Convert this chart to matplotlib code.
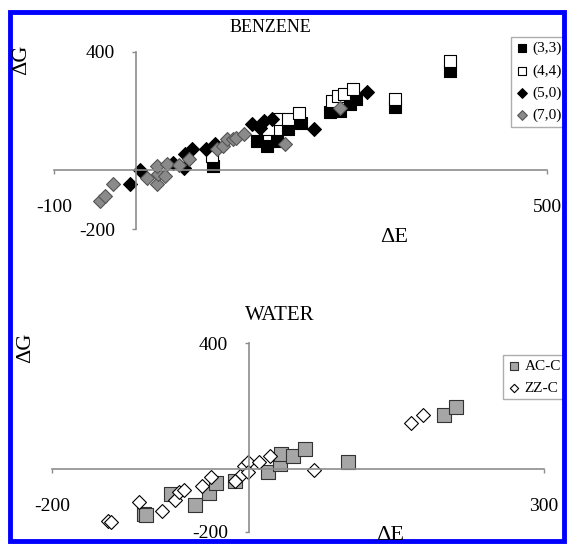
import matplotlib
matplotlib.use('Agg')
import matplotlib.pyplot as plt
from matplotlib.patches import Rectangle

plt.rcParams['font.family'] = ['Liberation Serif', 'DejaVu Serif']
plt.rcParams['axes.unicode_minus'] = False

# BENZENE panel
bz33_x = [94, 147, 159, 171, 185, 200, 236, 248, 260, 268, 315, 382]
bz33_y = [14, 98, 81, 98, 138, 160, 195, 200, 225, 239, 212, 335]
bz44_x = [92, 161, 173, 185, 198, 238, 246, 253, 264, 315, 382]
bz44_y = [47, 138, 172, 172, 194, 234, 251, 258, 275, 242, 369]
bz50_x = [-7, 5, 45, 58, 60, 68, 85, 96, 141, 151, 155, 165, 216, 281]
bz50_y = [-49, 0, 25, 8, 53, 70, 70, 87, 155, 144, 166, 172, 138, 264]
bz70_x = [-44, -38, -28, 13, 25, 27, 35, 25, 37, 52, 64, 98, 106, 110, 118, 122, 131, 181, 248]
bz70_y = [-105, -88, -49, -26, -49, -15, -20, 14, 19, 16, 36, 70, 81, 104, 104, 110, 121, 87, 211]

# WATER panel
acc_x = [-107, -104, -79, -55, -40, -33, -14, 20, 32, 33, 45, 57, 101, 198, 211]
acc_y = [-143, -147, -79, -113, -76, -45, -37, -11, 16, 48, 42, 63, 21, 171, 196]
zzc_x = [-143, -140, -112, -88, -75, -71, -66, -48, -38, -14, -7, -5, -1, -1, 10, 22, 66, 165, 177]
zzc_y = [-166, -168, -104, -134, -97, -74, -66, -53, -26, -37, -16, 8, 23, -11, 21, 40, -4, 146, 172]

fig = plt.figure(figsize=(5.67, 5.44), dpi=100)
W, H = 567.0, 544.0


def style_axes(ax, xlim, ylim):
    ax.set_xlim(xlim)
    ax.set_ylim(ylim)
    for s in ['top', 'right']:
        ax.spines[s].set_visible(False)
    ax.spines['left'].set_position(('data', 0))
    ax.spines['bottom'].set_position(('data', 0))
    for s in ['left', 'bottom']:
        ax.spines[s].set_color('#8c8c8c')
        ax.spines[s].set_linewidth(1.2)
    ax.set_xticks(list(xlim))
    ax.set_yticks(list(ylim))
    ax.tick_params(axis='x', direction='out', length=3, width=1.0, color='#8c8c8c',
                   pad=18, labelsize=14)
    ax.tick_params(axis='y', direction='out', length=3, width=1.0, color='#8c8c8c',
                   pad=12, labelsize=14)
    ax.patch.set_alpha(0)


ax1 = fig.add_axes([54 / W, 1 - 229 / H, 493 / W, 177 / H])
style_axes(ax1, (-100, 500), (-200, 400))
ax1.scatter(bz33_x, bz33_y, marker='s', s=80, c='black', edgecolors='black', linewidths=0.8, label='(3,3)')
ax1.scatter(bz44_x, bz44_y, marker='s', s=80, c='white', edgecolors='black', linewidths=0.8, label='(4,4)')
ax1.scatter(bz50_x, bz50_y, marker='D', s=50, c='black', edgecolors='black', linewidths=0.8, label='(5,0)')
ax1.scatter(bz70_x, bz70_y, marker='D', s=50, c='#8a8a8a', edgecolors='#555555', linewidths=0.8, label='(7,0)')
leg1 = ax1.legend(loc='upper left', bbox_to_anchor=(511 / W, 1 - 37 / H), bbox_transform=fig.transFigure,
                  fontsize=11, frameon=True, fancybox=False, edgecolor='#999999', handlelength=0.8,
                  handletextpad=0.3, borderpad=0.3, labelspacing=0.55, markerscale=0.7, borderaxespad=0)
leg1.get_frame().set_linewidth(1.0)
fig.text(270 / W, 1 - 28 / H, 'BENZENE', ha='center', va='center', fontsize=13)
fig.text(22 / W, 1 - 60 / H, 'ΔG', ha='center', va='center', rotation=90, fontsize=16)
fig.text(394 / W, 1 - 237 / H, 'ΔE', ha='center', va='center', fontsize=16)

ax2 = fig.add_axes([52 / W, 1 - 532 / H, 492 / W, 189 / H])
style_axes(ax2, (-200, 300), (-200, 400))
ax2.scatter(acc_x, acc_y, marker='s', s=110, c='#a6a6a6', edgecolors='#333333', linewidths=0.8, label='AC-C')
ax2.scatter(zzc_x, zzc_y, marker='D', s=50, c='white', edgecolors='black', linewidths=0.8, label='ZZ-C')
leg2 = ax2.legend(loc='upper left', bbox_to_anchor=(503 / W, 1 - 355 / H), bbox_transform=fig.transFigure,
                  fontsize=11, frameon=True, fancybox=False, edgecolor='#999999', handlelength=0.8,
                  handletextpad=0.3, borderpad=0.3, labelspacing=0.5, markerscale=0.6, borderaxespad=0)
leg2.get_frame().set_linewidth(1.0)
fig.text(280 / W, 1 - 316 / H, 'WATER', ha='center', va='center', fontsize=15)
fig.text(26 / W, 1 - 348 / H, 'ΔG', ha='center', va='center', rotation=90, fontsize=16)
fig.text(390 / W, 1 - 535 / H, 'ΔE', ha='center', va='center', fontsize=16)

# blue frame around the figure
fig.patches.append(Rectangle((10 / W, 1 - 541 / H), 554 / W, 529 / H, transform=fig.transFigure,
                             fill=False, edgecolor='#0000ff', linewidth=3.5))

fig.savefig('out.png', dpi=100)
